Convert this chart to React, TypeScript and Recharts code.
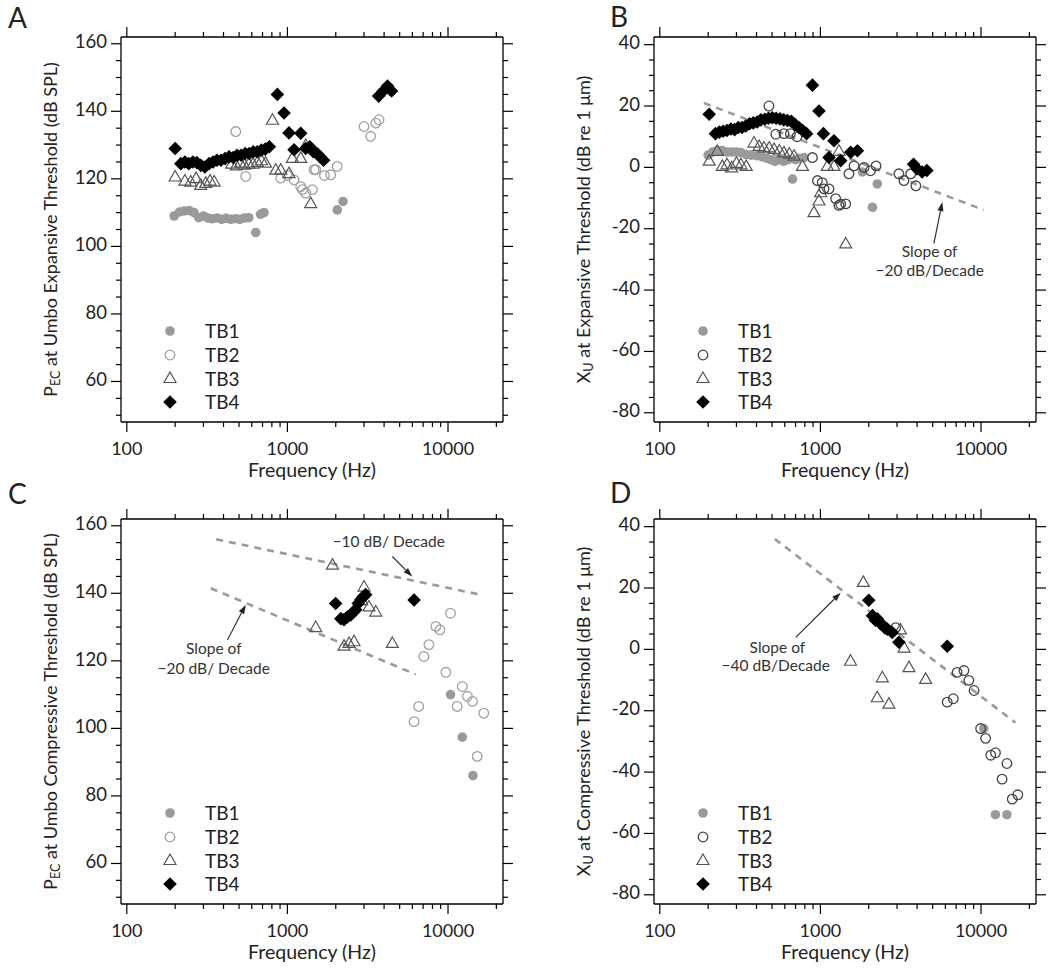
import {
  ScatterChart, Scatter, XAxis, YAxis, ReferenceLine, ReferenceDot, Legend, Label,
} from 'recharts'

type Pt = [number, number]

const FONT = 'Lato, "Open Sans", sans-serif'

// axis ticks
const freqTicks = [100, 200, 300, 400, 500, 600, 700, 800, 900, 1000, 2000, 3000, 4000, 5000, 6000, 7000, 8000, 9000, 10000, 20000]
const freqMajor = [100, 1000, 10000]
const splTicks = [50, 55, 60, 65, 70, 75, 80, 85, 90, 95, 100, 105, 110, 115, 120, 125, 130, 135, 140, 145, 150, 155, 160]
const umTicks = [-80, -75, -70, -65, -60, -55, -50, -45, -40, -35, -30, -25, -20, -15, -10, -5, 0, 5, 10, 15, 20, 25, 30, 35, 40]

const legendNames = ['TB1', 'TB2', 'TB3', 'TB4']

// A: expansive threshold, sound pressure
const aTB1: Pt[] = [[197, 109], [213, 110.2], [228, 110.5], [245, 110.6], [262, 110], [280, 108.5], [300, 109], [320, 108.4], [340, 108.2], [365, 108.4], [390, 108], [415, 108.3], [445, 108], [475, 108.2], [505, 108], [540, 108.4], [575, 108.5], [635, 104.1], [680, 109.5], [715, 110], [2045, 110.8], [2220, 113.3]]
const aTB2: Pt[] = [[477, 134], [550, 120.7], [909, 120.2], [1000, 121], [1100, 119.7], [1210, 117.7], [1240, 116.8], [1300, 115.8], [1430, 116.8], [1465, 122.7], [1500, 122.7], [1700, 121], [1860, 121.2], [2040, 123.7], [3000, 135.5], [3300, 132.6], [3550, 136.5], [3720, 137.5]]
const aTB3: Pt[] = [[200, 120.7], [230, 119.5], [250, 119.2], [270, 120.2], [288, 118.2], [310, 118.8], [330, 119.5], [350, 119.2], [450, 124.5], [480, 124], [510, 124.8], [540, 124.2], [575, 124.5], [610, 124.5], [650, 125], [690, 125.5], [730, 124.8], [807, 137.5], [846, 122.7], [909, 122.7], [1023, 121.7], [1074, 126.2], [1210, 126.2], [1300, 130], [1396, 112.8]]
const aTB4: Pt[] = [[200, 129], [217, 124.5], [230, 125], [243, 124.5], [258, 125], [273, 124.8], [289, 124], [306, 123.5], [325, 124.5], [344, 125], [364, 125.5], [386, 125.5], [409, 126], [433, 126.5], [459, 126.3], [486, 127], [515, 127], [546, 127.5], [578, 127.5], [613, 128], [649, 128], [688, 128.5], [729, 128.8], [772, 129.5], [866, 145], [953, 139.5], [1023, 133.6], [1100, 128.6], [1210, 133.5], [1300, 129], [1380, 129.5], [1450, 128], [1530, 127.5], [1600, 126.5], [1680, 125.5], [3700, 144.5], [3950, 146], [4200, 147.5], [4450, 146]]

// B: expansive threshold, umbo displacement
const bTB1: Pt[] = [[200, 4], [213, 5], [228, 5.5], [245, 5.5], [262, 5], [280, 5], [300, 5], [320, 4.8], [345, 4.2], [370, 4], [400, 3.8], [430, 3.5], [460, 3], [490, 2.5], [520, 2], [555, 2.5], [590, 2], [630, 2.5], [670, -3.8], [700, 2.5], [740, 3], [790, 3.2], [1825, -1.5], [2110, -13], [2260, -5.4]]
const bTB2: Pt[] = [[478, 20], [527, 10.8], [593, 11], [650, 11], [715, 10], [892, 3.2], [958, -4.3], [1026, -5], [1054, -7], [1131, -7], [1245, -10.2], [1305, -12.4], [1338, -12], [1437, -11.9], [1505, -2.1], [1620, 0.5], [1870, 0], [2050, -1.1], [2220, 0.5], [3080, -2.1], [3310, -4.3], [3650, -2.1], [3930, -6]]
const bTB3: Pt[] = [[203, 2.2], [228, 5.4], [245, 0.5], [262, 1], [280, 0], [300, 1.5], [320, 1], [345, 0.5], [386, 8.1], [415, 7], [445, 6.5], [480, 6.5], [515, 6], [555, 5.5], [593, 4.9], [640, 4.5], [685, 3.8], [773, 0.5], [912, -14.6], [980, -10.8], [1004, -8.1], [1105, 0.5], [1215, 0.5], [1305, 5.4], [1437, -24.8]]
const bTB4: Pt[] = [[203, 17.3], [222, 11], [235, 11.5], [248, 11.8], [262, 12], [277, 12.5], [292, 12.3], [308, 13], [325, 13], [343, 13.5], [362, 14.2], [382, 14.5], [404, 14.8], [426, 15.5], [450, 15.7], [475, 16], [502, 16.2], [530, 16], [560, 15.8], [591, 15.5], [624, 15.3], [659, 15], [696, 14], [735, 13], [776, 12], [820, 11], [892, 26.8], [980, 18.4], [1044, 11], [1131, 3.2], [1215, 8.7], [1338, 2.2], [1544, 4.9], [1700, 5.4], [3800, 1], [4000, -0.5], [4300, -1.5], [4600, -1]]

// C: compressive threshold, sound pressure
const cTB1: Pt[] = [[10370, 110], [12270, 97.4], [14300, 86]]
const cTB2: Pt[] = [[6150, 102], [6570, 106.5], [7080, 121.3], [7610, 124.8], [8400, 130.2], [8900, 129.2], [9700, 116.6], [10370, 134.1], [11400, 106.5], [12270, 112.4], [13200, 109.5], [14200, 108], [15200, 91.7], [16700, 104.5]]
const cTB3: Pt[] = [[1500, 130], [1906, 148.5], [2250, 124.5], [2420, 125.3], [2600, 125.8], [2900, 138], [3000, 142], [3220, 136.1], [3550, 134.6], [4500, 125.3]]
const cTB4: Pt[] = [[1996, 137], [2150, 132.5], [2250, 132.2], [2360, 133], [2480, 133.6], [2580, 134.5], [2660, 135.1], [2760, 137], [2860, 138.1], [2960, 139], [3070, 139.6], [6150, 138]]

// D: compressive threshold, umbo displacement
const dTB1: Pt[] = [[10400, -25.8], [12300, -53.9], [14500, -53.9]]
const dTB2: Pt[] = [[2940, 7.1], [6160, -17.2], [6720, -16.1], [7100, -7.5], [7830, -6.9], [8400, -10.1], [9050, -13.4], [9950, -25.8], [10680, -29], [11500, -34.5], [12300, -33.7], [13530, -42.3], [14500, -37.2], [15650, -48.8], [16950, -47.4]]
const dTB3: Pt[] = [[1540, -3.7], [1850, 22], [2260, -15.6], [2430, -9.1], [2670, -17.7], [3150, 6.5], [3320, 0.6], [3560, -5.8], [4520, -9.6]]
const dTB4: Pt[] = [[2000, 16], [2110, 11], [2200, 9.5], [2260, 10], [2350, 8.5], [2430, 8], [2520, 7], [2610, 6.6], [2800, 5.5], [3080, 2.3], [6160, 1]]

// slope guide lines and annotation arrows (freq, value)
const bSlope: Pt[] = [[188, 21], [10400, -13.9]]
const cSlope10: Pt[] = [[360, 156], [15500, 139.7]]
const cSlope20: Pt[] = [[333, 141.5], [6280, 116]]
const dSlope40: Pt[] = [[520, 36], [16400, -23.9]]
const bArrow: Pt[] = [[5090, -24.8], [5740, -11.3]]
const cArrow10: Pt[] = [[4500, 150.9], [5990, 145]]
const cArrow20: Pt[] = [[423, 126.2], [550, 136.6]]
const dArrow: Pt[] = [[702, 3.9], [1338, 18.5]]

type Note = [number, number, string]
const bNotes: Note[] = [[4790, -27.9, 'Slope of'], [4790, -34, '\u221220 dB/Decade']]
const cNotes: Note[] = [[4270, 155, '\u221210 dB/ Decade'], [348, 123.3, 'Slope of'], [348, 117.4, '\u221220 dB/ Decade']]
const dNotes: Note[] = [[540, 0.1, 'Slope of'], [527, -5.8, '\u221240 dB/Decade']]

const toXY = (pts: Pt[]) => pts.map(([x, y]) => ({ x, y }))

// ---- markers ----
const GRAY = '#9a9a9a'
const filledCircle = (p: any) => <circle cx={p.cx} cy={p.cy} r={4.8} fill={GRAY} />
const openCircle = (color: string) => (p: any) => (
  <circle cx={p.cx} cy={p.cy} r={4.8} fill="none" stroke={color} strokeWidth={1.3} />
)
const triangle = (p: any) => (
  <polygon
    points={`${p.cx},${p.cy - 6} ${p.cx + 6},${p.cy + 4.5} ${p.cx - 6},${p.cy + 4.5}`}
    fill="none" stroke="#555" strokeWidth={1.2}
  />
)
const diamond = (p: any) => (
  <polygon
    points={`${p.cx},${p.cy - 6.8} ${p.cx + 6.8},${p.cy} ${p.cx},${p.cy + 6.8} ${p.cx - 6.8},${p.cy}`}
    fill="#000"
  />
)

// ---- ticks ----
const XTickBottom = (props: any) => {
  const { x, y, payload } = props
  const major = freqMajor.includes(payload.value)
  return (
    <g>
      <line x1={x} y1={y} x2={x} y2={y + (major ? 10 : 5)} stroke="#000" strokeWidth={1.2} />
      {major && (
        <text x={x} y={y + 28} textAnchor="middle" dominantBaseline="middle"
          fontSize={18} fontFamily={FONT} fill="#222">{payload.value}</text>
      )}
    </g>
  )
}
const XTickTop = (props: any) => {
  const { x, y, payload } = props
  const major = freqMajor.includes(payload.value)
  return <line x1={x} y1={y} x2={x} y2={y - (major ? 10 : 5)} stroke="#000" strokeWidth={1.2} />
}
const YTickLeft = (props: any) => {
  const { x, y, payload } = props
  const major = payload.value % 20 === 0
  return (
    <g>
      <line x1={x} y1={y} x2={x - (major ? 10 : 5)} y2={y} stroke="#000" strokeWidth={1.2} />
      {major && (
        <text x={x - 14} y={y} textAnchor="end" dominantBaseline="middle"
          fontSize={18.5} fontFamily={FONT} fill="#222">{payload.value}</text>
      )}
    </g>
  )
}
const YTickRight = (props: any) => {
  const { x, y, payload } = props
  const major = payload.value % 20 === 0
  return <line x1={x} y1={y} x2={x + (major ? 10 : 5)} y2={y} stroke="#000" strokeWidth={1.2} />
}

const Arrow = (p: any) => {
  const { x1, y1, x2, y2 } = p
  const a = Math.atan2(y2 - y1, x2 - x1)
  const c = Math.cos(a), s = Math.sin(a)
  const bx = x2 - 9 * c, by = y2 - 9 * s
  return (
    <g>
      <line x1={x1} y1={y1} x2={bx} y2={by} stroke="#333" strokeWidth={1.2} />
      <polygon points={`${x2},${y2} ${bx - 3 * s},${by + 3 * c} ${bx + 3 * s},${by - 3 * c}`} fill="#222" />
    </g>
  )
}

type PanelProps = {
  left: number; top: number; width: number; height: number
  margin: { top: number; left: number; right: number; bottom: number }
  yDomain: [number, number]; yTicks: number[]
  yTitle: [string, string, string]
  tb1: Pt[]; tb2: Pt[]; tb3: Pt[]; tb4: Pt[]
  tb2Color: string
  slopes: Pt[][]; arrows: Pt[][]; notes: Note[]
  legendLeft: number; legendTop: number
}

function Panel(pp: PanelProps) {
  const yTitle = (v: any) => {
    const vb = v.viewBox
    const cx = vb.x + (vb.width || 0) - 69
    const cy = vb.y + vb.height / 2
    return (
      <text x={cx} y={cy} transform={`rotate(-90 ${cx} ${cy})`} textAnchor="middle"
        dominantBaseline="middle" fontSize={18} fontFamily={FONT} fill="#222">
        {pp.yTitle[0]}
        <tspan dy={5} fontSize={12.5}>{pp.yTitle[1]}</tspan>
        <tspan dy={-5}>{pp.yTitle[2]}</tspan>
      </text>
    )
  }
  const xTitle = (v: any) => {
    const vb = v.viewBox
    return (
      <text x={vb.x + vb.width / 2} y={vb.y + 50} textAnchor="middle" dominantBaseline="middle"
        fontSize={19.5} fontFamily={FONT} fill="#222">Frequency (Hz)</text>
    )
  }
  const legend = () => (
    <div style={{ fontFamily: FONT, fontSize: 19, color: '#222' }}>
      {legendNames.map((n, i) => (
        <div key={n} style={{ display: 'flex', alignItems: 'center', height: 23.7 }}>
          <svg width={52} height={20}>
            {i === 0 && filledCircle({ cx: 17, cy: 10 })}
            {i === 1 && openCircle(pp.tb2Color)({ cx: 17, cy: 10 })}
            {i === 2 && triangle({ cx: 17, cy: 10 })}
            {i === 3 && diamond({ cx: 17, cy: 10 })}
          </svg>
          <span>{n}</span>
        </div>
      ))}
    </div>
  )
  return (
    <div style={{ position: 'absolute', left: pp.left, top: pp.top }}>
      <ScatterChart width={pp.width} height={pp.height} margin={pp.margin}>
        <XAxis dataKey="x" type="number" scale="log" domain={[92, 22000]} allowDataOverflow
          ticks={freqTicks} interval={0} height={1} tickSize={0} tickMargin={0}
          tickLine={false} tick={<XTickBottom />} axisLine={{ stroke: '#000', strokeWidth: 1.3 }}>
          <Label content={xTitle} />
        </XAxis>
        <XAxis xAxisId="top" orientation="top" dataKey="x" type="number" scale="log"
          domain={[92, 22000]} allowDataOverflow ticks={freqTicks} interval={0} height={1}
          tickSize={0} tickMargin={0} tickLine={false} tick={<XTickTop />}
          axisLine={{ stroke: '#000', strokeWidth: 1.3 }} />
        <YAxis dataKey="y" type="number" domain={pp.yDomain} allowDataOverflow ticks={pp.yTicks}
          interval={0} width={1} tickSize={0} tickMargin={0} tickLine={false} tick={<YTickLeft />}
          axisLine={{ stroke: '#000', strokeWidth: 1.3 }}>
          <Label content={yTitle} />
        </YAxis>
        <YAxis yAxisId="right" orientation="right" dataKey="y" type="number" domain={pp.yDomain}
          allowDataOverflow ticks={pp.yTicks} interval={0} width={1} tickSize={0} tickMargin={0}
          tickLine={false} tick={<YTickRight />} axisLine={{ stroke: '#000', strokeWidth: 1.3 }} />
        {pp.slopes.map((s, i) => (
          <ReferenceLine key={'s' + i} segment={toXY(s)} stroke="#9a9a9a" strokeWidth={2.6}
            strokeDasharray="7 6" />
        ))}
        {pp.arrows.map((s, i) => (
          <ReferenceLine key={'a' + i} segment={toXY(s)} shape={Arrow} />
        ))}
        {pp.notes.map(([x, y, t], i) => (
          <ReferenceDot key={'n' + i} x={x} y={y} r={0}
            shape={(p: any) => (
              <text x={p.cx} y={p.cy} textAnchor="middle" dominantBaseline="middle"
                fontSize={15.5} fontFamily={FONT} fill="#333">{t}</text>
            )} />
        ))}
        <Scatter data={toXY(pp.tb1)} shape={filledCircle} isAnimationActive={false} />
        <Scatter data={toXY(pp.tb2)} shape={openCircle(pp.tb2Color)} isAnimationActive={false} />
        <Scatter data={toXY(pp.tb3)} shape={triangle} isAnimationActive={false} />
        <Scatter data={toXY(pp.tb4)} shape={diamond} isAnimationActive={false} />
        <Legend layout="vertical" align="center" verticalAlign="middle" content={legend}
          wrapperStyle={{ left: pp.legendLeft, top: pp.legendTop, width: 'auto' }} />
      </ScatterChart>
    </div>
  )
}

const letterStyle = (left: number, top: number): React.CSSProperties => ({
  position: 'absolute', left, top, fontFamily: FONT, fontSize: 28, color: '#222', lineHeight: 1,
})

export default function App() {
  const topMargin = { top: 36, bottom: 57 }
  const botMargin = { top: 38, bottom: 69 }
  return (
    <div style={{ position: 'absolute', left: 0, top: 0, width: 1050, height: 974, background: '#fff' }}>
      <Panel left={0} top={0} width={525} height={480}
        margin={{ ...topMargin, left: 120, right: 21 }}
        yDomain={[48, 162]} yTicks={splTicks}
        yTitle={['P', 'EC', ' at Umbo Expansive Threshold (dB SPL)']}
        tb1={aTB1} tb2={aTB2} tb3={aTB3} tb4={aTB4} tb2Color="#a0a0a0"
        slopes={[]} arrows={[]} notes={[]} legendLeft={153} legendTop={319} />
      <Panel left={525} top={0} width={525} height={480}
        margin={{ ...topMargin, left: 128, right: 13 }}
        yDomain={[-83, 42.5]} yTicks={umTicks}
        yTitle={['X', 'U', ' at Expansive Threshold (dB re 1 \u03bcm)']}
        tb1={bTB1} tb2={bTB2} tb3={bTB3} tb4={bTB4} tb2Color="#444"
        slopes={[bSlope]} arrows={[bArrow]} notes={bNotes} legendLeft={161} legendTop={319} />
      <Panel left={0} top={480} width={525} height={494}
        margin={{ ...botMargin, left: 120, right: 21 }}
        yDomain={[48, 162]} yTicks={splTicks}
        yTitle={['P', 'EC', ' at Umbo Compressive Threshold (dB SPL)']}
        tb1={cTB1} tb2={cTB2} tb3={cTB3} tb4={cTB4} tb2Color="#a0a0a0"
        slopes={[cSlope10, cSlope20]} arrows={[cArrow10, cArrow20]} notes={cNotes}
        legendLeft={153} legendTop={321} />
      <Panel left={525} top={480} width={525} height={494}
        margin={{ ...botMargin, left: 128, right: 13 }}
        yDomain={[-83, 42.5]} yTicks={umTicks}
        yTitle={['X', 'U', ' at Compressive Threshold (dB re 1 \u03bcm)']}
        tb1={dTB1} tb2={dTB2} tb3={dTB3} tb4={dTB4} tb2Color="#444"
        slopes={[dSlope40]} arrows={[dArrow]} notes={dNotes} legendLeft={161} legendTop={321} />
      <div style={letterStyle(8, 3)}>A</div>
      <div style={letterStyle(610, 2)}>B</div>
      <div style={letterStyle(8, 479)}>C</div>
      <div style={letterStyle(610, 478)}>D</div>
    </div>
  )
}
